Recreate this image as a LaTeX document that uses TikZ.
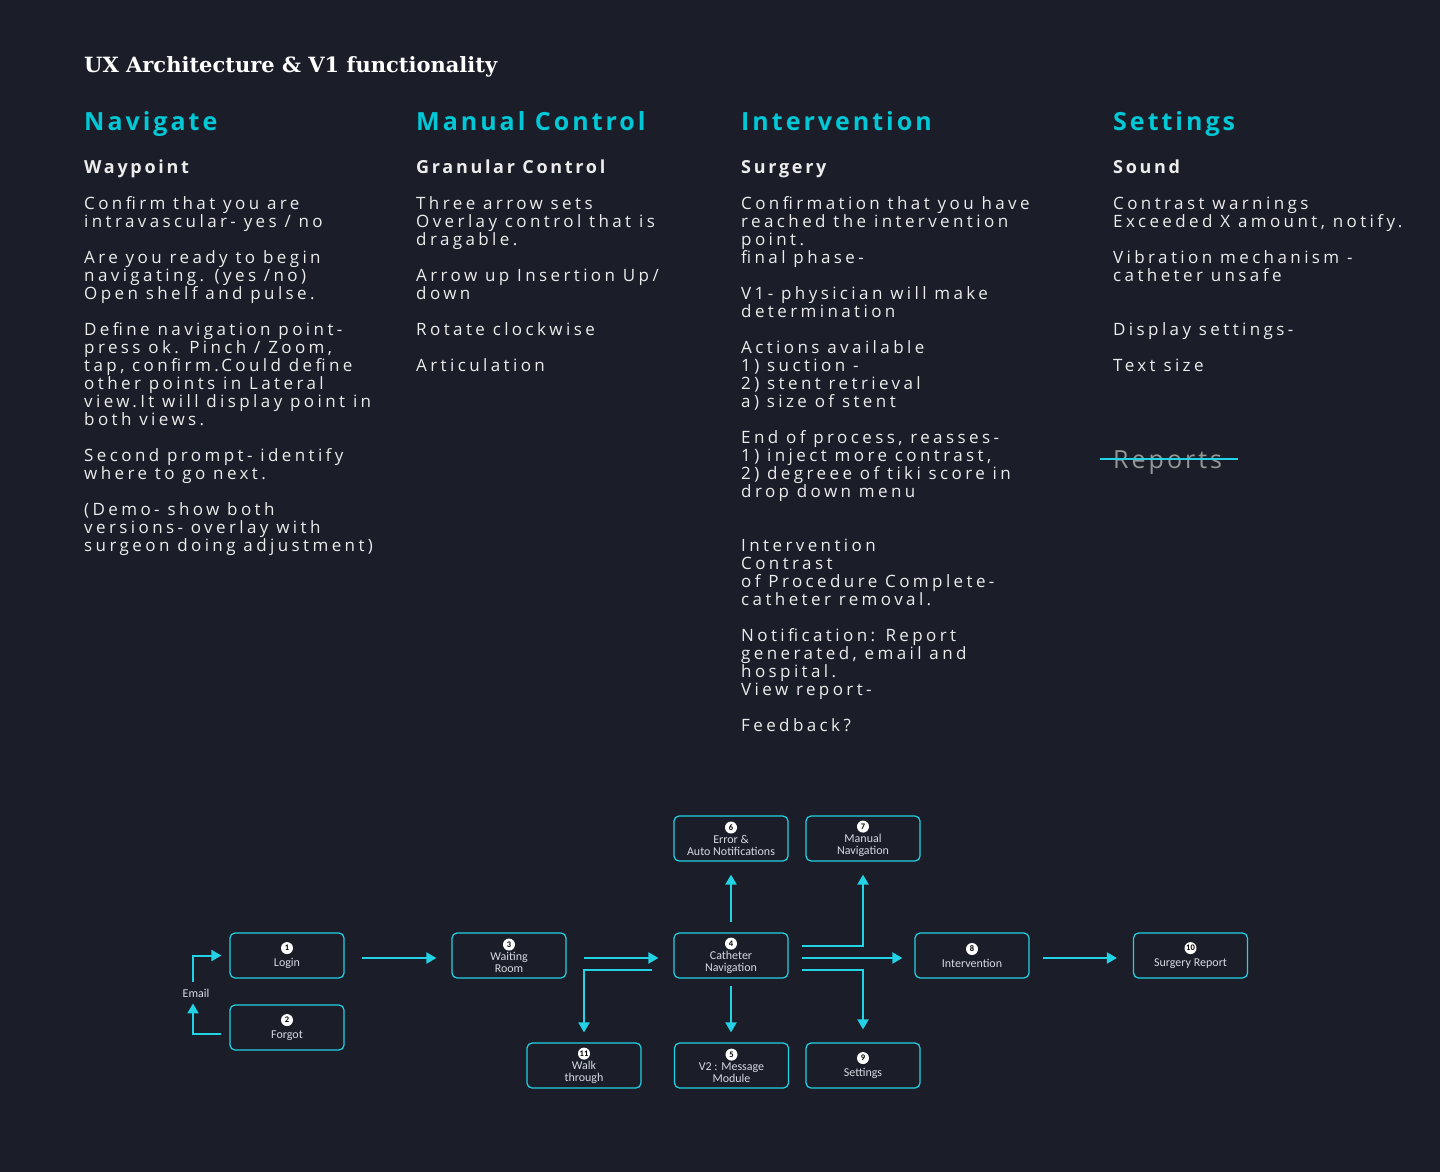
\documentclass[tikz,border=0pt]{standalone}
\usepackage{fontspec}
\setmainfont{Open Sans}
\newfontfamily\bodyfont[LetterSpace=20]{Open Sans}
\newfontfamily\headfont[LetterSpace=12]{Open Sans}
\newfontfamily\subfont[LetterSpace=15]{Open Sans}
\newfontfamily\titlefont{DejaVu Serif}
\newfontfamily\boxfont{Carlito}
\usetikzlibrary{arrows.meta,positioning}
\definecolor{bgdark}{RGB}{27,30,41}
\definecolor{cyanline}{RGB}{34,211,230}
\definecolor{cyanhead}{RGB}{0,200,214}
\definecolor{bodytext}{RGB}{236,236,236}
\definecolor{boxtext}{RGB}{215,218,225}
\definecolor{greyhead}{RGB}{150,150,150}

\newcommand{\badge}[1]{\tikz[baseline=(n.base)]\node[circle,fill=white,inner sep=0pt,minimum size=12pt,text=black,font=\boxfont\bfseries\fontsize{8.5}{9}\selectfont] (n) {#1};}
\newcommand{\topline}{\rule{0pt}{14pt}}

\begin{document}
\begin{tikzpicture}[x=1pt,y=-1pt,
  head/.style={anchor=base west, inner sep=0pt, text=cyanhead, font=\headfont\bfseries\fontsize{25}{25}\selectfont},
  subhead/.style={anchor=base west, inner sep=0pt, text=bodytext, font=\subfont\bfseries\fontsize{18}{18}\selectfont},
  body/.style={anchor=north west, align=left, inner sep=0pt, text=bodytext, font=\bodyfont\fontsize{17}{18}\selectfont},
  box/.style={draw=cyanline, line width=1.2pt, rounded corners=5pt, fill=bgdark, minimum width=114pt, minimum height=45pt, inner sep=1pt, align=center, text=boxtext, font=\boxfont\fontsize{12}{12}\selectfont},
  flow/.style={draw=cyanline, line width=2pt, -{Triangle[length=10pt,width=11pt]}}]
\useasboundingbox (0,0) rectangle (1440,1172);
\fill[bgdark] (0,0) rectangle (1440,1172);

% Title
\node[anchor=base west, inner sep=0pt, text=white, font=\titlefont\bfseries\fontsize{21}{21}\selectfont] (title) at (84,72) {UX Architecture \& V1 functionality};

% Headings
\node[head] (navh) at (84,130) {Navigate};
\node[head] (manh) at (416,130) {Manual Control};
\node[head] (inth) at (741,130) {Intervention};
\node[head] (seth) at (1113,130) {Settings};

\node[subhead] (navs) at (84,173) {Waypoint};
\node[subhead] (mans) at (416,173) {Granular Control};
\node[subhead] (ints) at (741,173) {Surgery};
\node[subhead] (sets) at (1113,173) {Sound};

% Column texts (first baseline at y=209)
\node[body] (navt) at (84,195) {\topline Confirm that you are\\
intravascular- yes / no\\[18pt]
Are you ready to begin\\
navigating. (yes /no)\\
Open shelf and pulse.\\[18pt]
Define navigation point-\\
press ok. Pinch / Zoom,\\
tap, confirm.Could define\\
other points in Lateral\\
view.It will display point in\\
both views.\\[18pt]
Second prompt- identify\\
where to go next.\\[18pt]
(Demo- show both\\
versions- overlay with\\
surgeon doing adjustment)};

\node[body] (mant) at (416,195) {\topline Three arrow sets\\
Overlay control that is\\
dragable.\\[18pt]
Arrow up Insertion Up/\\
down\\[18pt]
Rotate clockwise\\[18pt]
Articulation};

\node[body] (intt) at (741,195) {\topline Confirmation that you have\\
reached the intervention\\
point.\\
final phase-\\[18pt]
V1- physician will make\\
determination\\[18pt]
Actions available\\
1) suction -\\
2) stent retrieval\\
a) size of stent\\[18pt]
End of process, reasses-\\
1) inject more contrast,\\
2) degreee of tiki score in\\
drop down menu\\[36pt]
Intervention\\
Contrast\\
of Procedure Complete-\\
catheter removal.\\[18pt]
Notification: Report\\
generated, email and\\
hospital.\\
View report-\\[18pt]
Feedback?};

\node[body] (sett) at (1113,195) {\topline Contrast warnings\\
Exceeded X amount, notify.\\[18pt]
Vibration mechanism -\\
catheter unsafe\\[36pt]
Display settings-\\[18pt]
Text size};

\node[head, text=greyhead, font=\headfont\fontsize{25}{25}\selectfont] (reports) at (1113,468) {Reports};
\draw[cyanline, line width=1.2pt] ([xshift=-13pt,yshift=9pt]reports.base west) -- ([xshift=16pt,yshift=9pt]reports.base east);

% Flow boxes
\node[box] (login) at (287,955.5) {\badge{1}\\[4pt]Login};
\node[box] (forgot) at (287,1027.5) {\badge{2}\\[4pt]Forgot};
\node[box] (wait) at (509,955.5) {\badge{3}\\[1pt]Waiting\\Room};
\node[box] (cath) at (731,955.5) {\badge{4}\\[1pt]Catheter\\Navigation};
\node[box] (err) at (731,838.5) {\badge{6}\\[1pt]Error \&\\Auto Notifications};
\node[box] (manual) at (863,838.5) {\badge{7}\\[1pt]Manual\\Navigation};
\node[box] (msg) at (731.5,1065.5) {\badge{5}\\[1pt]V2 : Message\\Module};
\node[box] (settings) at (863,1065.5) {\badge{9}\\[4pt]Settings};
\node[box] (walk) at (584,1065.5) {\badge{11}\\[1pt]Walk\\through};
\node[box] (interv) at (972,955.5) {\badge{8}\\[4pt]Intervention};
\node[box] (report) at (1190.5,955.5) {\badge{10}\\[4pt]Surgery Report};
\node[text=boxtext, font=\boxfont\fontsize{12}{12}\selectfont, inner sep=1pt] (email) at (196,993) {Email};

% Connectors
\draw[flow] ([xshift=-3pt,yshift=6pt]email.north) |- ([xshift=-8pt]login.west);
\draw[flow] ([xshift=-8pt,yshift=-6.5pt]forgot.west) -| ([xshift=-3pt,yshift=-5pt]email.south);
\draw[flow] ([xshift=17pt,yshift=-2.5pt]login.east) -- ([xshift=-15pt,yshift=-2.5pt]wait.west);
\draw[flow] ([xshift=17pt,yshift=-2.5pt]wait.east) -- ([xshift=-15pt,yshift=-2.5pt]cath.west);
\draw[flow] ([xshift=-21pt,yshift=-14.5pt]cath.west) -| ([yshift=10pt]walk.north);
\draw[flow] ([yshift=10pt]cath.north) -- ([yshift=-13pt]err.south);
\draw[flow] ([yshift=-7pt]cath.south) -- ([yshift=10pt]cath.south |- msg.north);
\draw[flow] ([xshift=13pt,yshift=9.5pt]cath.east) -| ([yshift=-13pt]manual.south);
\draw[flow] ([xshift=13pt,yshift=-2.5pt]cath.east) -- ([xshift=-12pt,yshift=-2.5pt]interv.west);
\draw[flow] ([xshift=13pt,yshift=-14.5pt]cath.east) -| ([yshift=13pt]settings.north);
\draw[flow] ([xshift=13pt,yshift=-2.5pt]interv.east) -- ([xshift=-16pt,yshift=-2.5pt]report.west);
\end{tikzpicture}
\end{document}
